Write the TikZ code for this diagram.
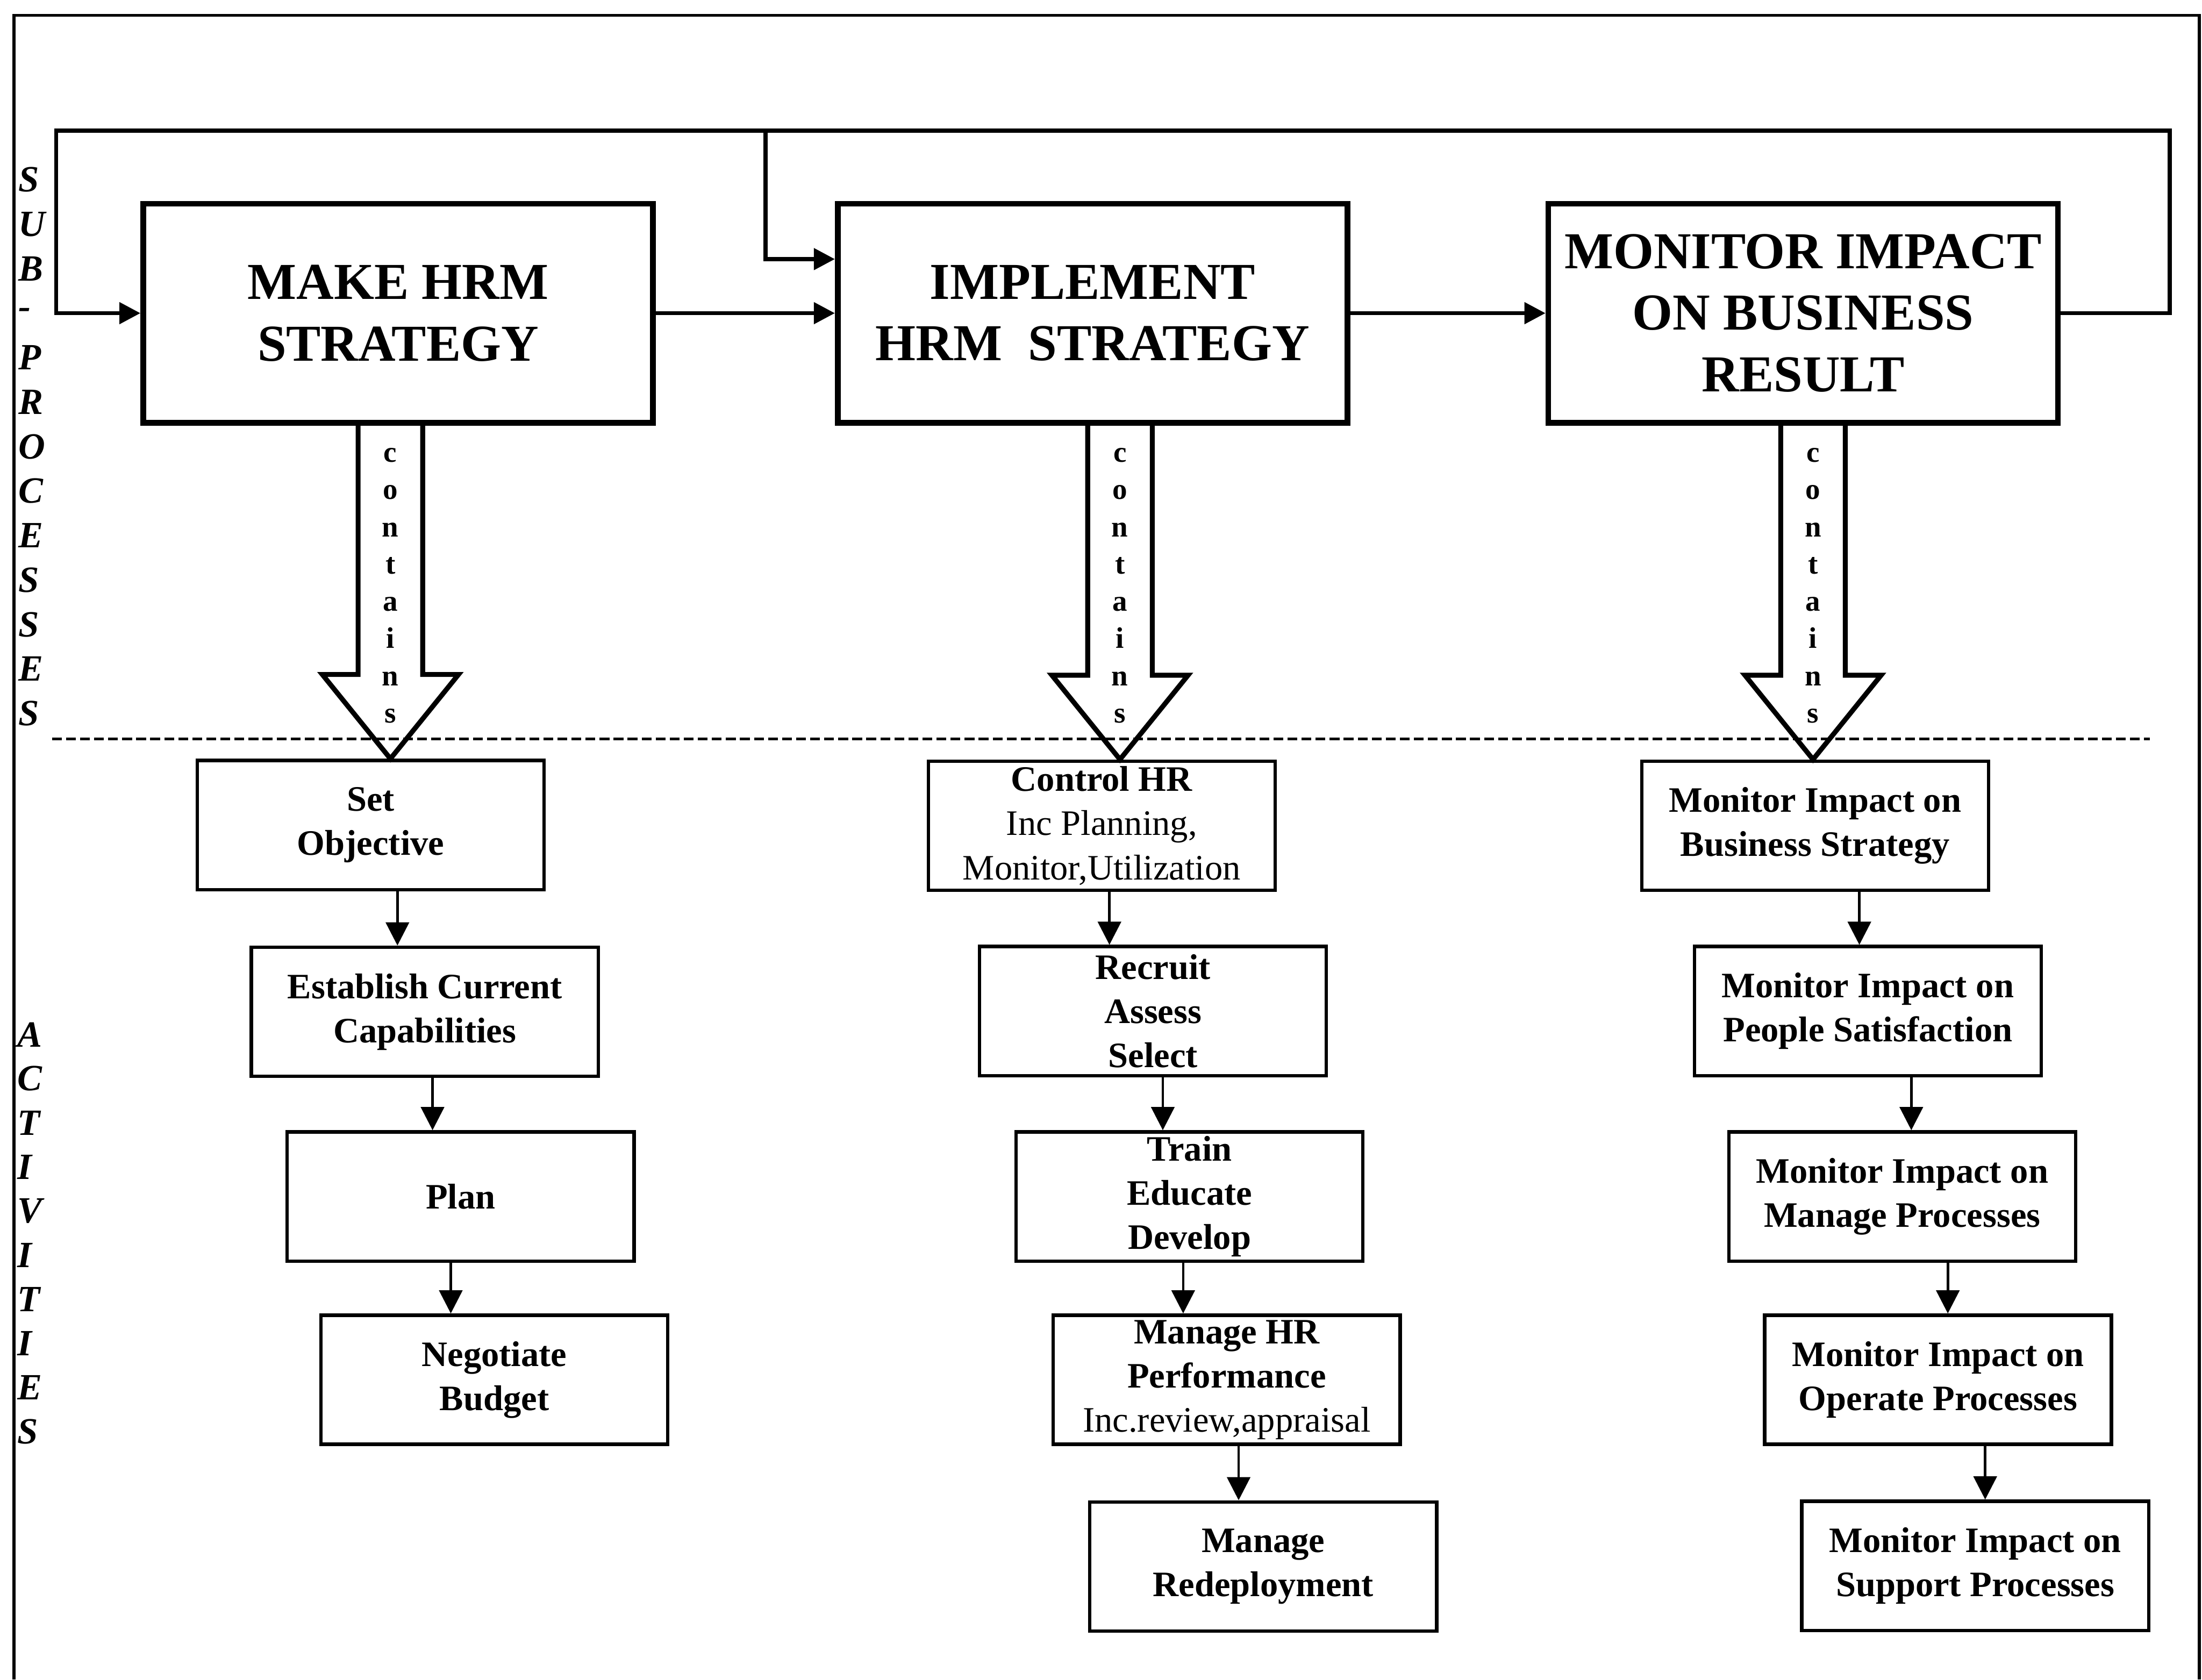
\documentclass[tikz,border=0pt]{standalone}
\usepackage{fontspec}
\setmainfont{Liberation Serif}
\usetikzlibrary{arrows.meta,calc}
\begin{document}
\begin{tikzpicture}[x=0.02cm,y=-0.02cm,
  frameline/.style={line width=1.2pt},
  stage/.style={draw,line width=2.3pt,minimum width=7.26cm,minimum height=3.12cm,inner sep=0pt,align=center,font=\fontsize{21}{25}\selectfont\bfseries},
  task/.style={draw,line width=1.4pt,minimum width=4.94cm,minimum height=1.84cm,inner sep=0pt,align=center,font=\fontsize{14.5}{17.9}\selectfont\bfseries},
  loopline/.style={line width=1.7pt,-{Triangle[length=0.3cm,width=0.3cm]}},
  flow/.style={line width=1pt,-{Triangle[length=0.33cm,width=0.33cm]}},
  container/.style={line width=2pt,line join=miter},
  vletters/.style={align=center,inner sep=0pt,font=\fontsize{12}{15.1}\selectfont\bfseries},
  sideletter/.style={anchor=west,inner sep=0pt,font=\fontsize{15}{18}\selectfont\bfseries\itshape},
  divider/.style={line width=1.1pt,dash pattern=on 0.14cm off 0.06cm}
]
\useasboundingbox (0,0) rectangle (1568,1196);

% outer frame (open at the bottom)
\coordinate (frBL) at (10,1196);
\coordinate (frTL) at (10,11);
\coordinate (frTR) at (1566,11);
\coordinate (frBR) at (1566,1196);
\draw[frameline] (frBL) -- (frTL) -- (frTR) -- (frBR);

% side captions
\foreach \ch [count=\i] in {S,U,B,-,P,R,O,C,E,S,S,E,S}
  \node[sideletter] (sub\i) at (13,{128+31.67*(\i-1)}) {\ch};
\foreach \ch [count=\i] in {A,C,T,I,V,I,T,I,E,S}
  \node[sideletter] (act\i) at (12,{736.7+31.4*(\i-1)}) {\ch};

% sub-processes
\node[stage] (b1) at (283.5,223) {MAKE HRM\\STRATEGY};
\node[stage] (b2) at (778,223) {IMPLEMENT\\HRM\ \ STRATEGY};
\node[stage] (b3) at (1284,223) {MONITOR IMPACT\\ON BUSINESS\\RESULT};

% process flow and feedback loop
\coordinate (fbR) at (1545,93);
\coordinate (fbL) at (40,93);
\coordinate (fbM) at (545,93);
\draw[loopline] (b1.east) -- (b2.west);
\draw[loopline] (b2.east) -- (b3.west);
\draw[loopline] (b3.east) -| (fbR) -- (fbL) |- (b1.west);
\draw[loopline] (fbM) |- ($(b2.west)+(0,-38.5)$);

% activities
\node[task] (setobj)  at (264,587.5)  {Set\\Objective};
\node[task] (estcap)  at (302.5,720.5) {Establish Current\\Capabilities};
\node[task] (plan)    at (328,852)    {Plan};
\node[task] (budget)  at (352,982.5)  {Negotiate\\Budget};

\node[task] (ctrl)     at (784.5,588)   {Control HR\\\mdseries Inc Planning,\\\mdseries Monitor,Utilization};
\node[task] (recruit)  at (821,720)     {Recruit\\Assess\\Select};
\node[task] (train)    at (847,852)     {Train\\Educate\\Develop};
\node[task] (perf)     at (873.5,982.5) {Manage HR\\Performance\\\mdseries Inc.review,appraisal};
\node[task] (redeploy) at (899.5,1115.5) {Manage\\Redeployment};

\node[task] (mbs) at (1292.5,588)  {Monitor Impact on\\Business Strategy};
\node[task] (mps) at (1330,720)    {Monitor Impact on\\People Satisfaction};
\node[task] (mmp) at (1354.5,852)  {Monitor Impact on\\Manage Processes};
\node[task] (mop) at (1380,982.5)  {Monitor Impact on\\Operate Processes};
\node[task] (msp) at (1406.5,1115) {Monitor Impact on\\Support Processes};

% divider between the two levels
\coordinate (dvL) at (37,526);
\coordinate (dvR) at (1531,526);
\draw[divider] (dvL) -- (dvR);

% "contains" block arrows
\coordinate (k1) at (278,0);
\coordinate (k2) at (797.5,0);
\coordinate (k3) at (1291,0);
\foreach \src/\dst/\ax/\lab in {b1/setobj/k1/ct1, b2/ctrl/k2/ct2, b3/mbs/k3/ct3}{
  \draw[container] ($(\src.south -| \ax)+(-23,0)$) -- ($(\dst.north -| \ax)+(-23,-60)$)
    -- ($(\dst.north -| \ax)+(-48.5,-60)$) -- (\dst.north -| \ax)
    -- ($(\dst.north -| \ax)+(48.5,-60)$) -- ($(\dst.north -| \ax)+(23,-60)$)
    -- ($(\src.south -| \ax)+(23,0)$);
  \node[vletters] (\lab) at ($(\ax)+(0,417)$) {c\\o\\n\\t\\a\\i\\n\\s};
}

% activity sequence arrows
\coordinate (x11) at (283,0);
\coordinate (x12) at (308,0);
\coordinate (x13) at (321,0);
\draw[flow] (setobj.south -| x11) -- (estcap.north -| x11);
\draw[flow] (estcap.south -| x12) -- (plan.north -| x12);
\draw[flow] (plan.south -| x13) -- (budget.north -| x13);

\coordinate (x21) at (790,0);
\coordinate (x22) at (828,0);
\coordinate (x23) at (842.5,0);
\coordinate (x24) at (882,0);
\draw[flow] (ctrl.south -| x21) -- (recruit.north -| x21);
\draw[flow] (recruit.south -| x22) -- (train.north -| x22);
\draw[flow] (train.south -| x23) -- (perf.north -| x23);
\draw[flow] (perf.south -| x24) -- (redeploy.north -| x24);

\coordinate (x31) at (1324,0);
\coordinate (x32) at (1361,0);
\coordinate (x33) at (1387,0);
\coordinate (x34) at (1413.6,0);
\draw[flow] (mbs.south -| x31) -- (mps.north -| x31);
\draw[flow] (mps.south -| x32) -- (mmp.north -| x32);
\draw[flow] (mmp.south -| x33) -- (mop.north -| x33);
\draw[flow] (mop.south -| x34) -- (msp.north -| x34);
\end{tikzpicture}
\end{document}
